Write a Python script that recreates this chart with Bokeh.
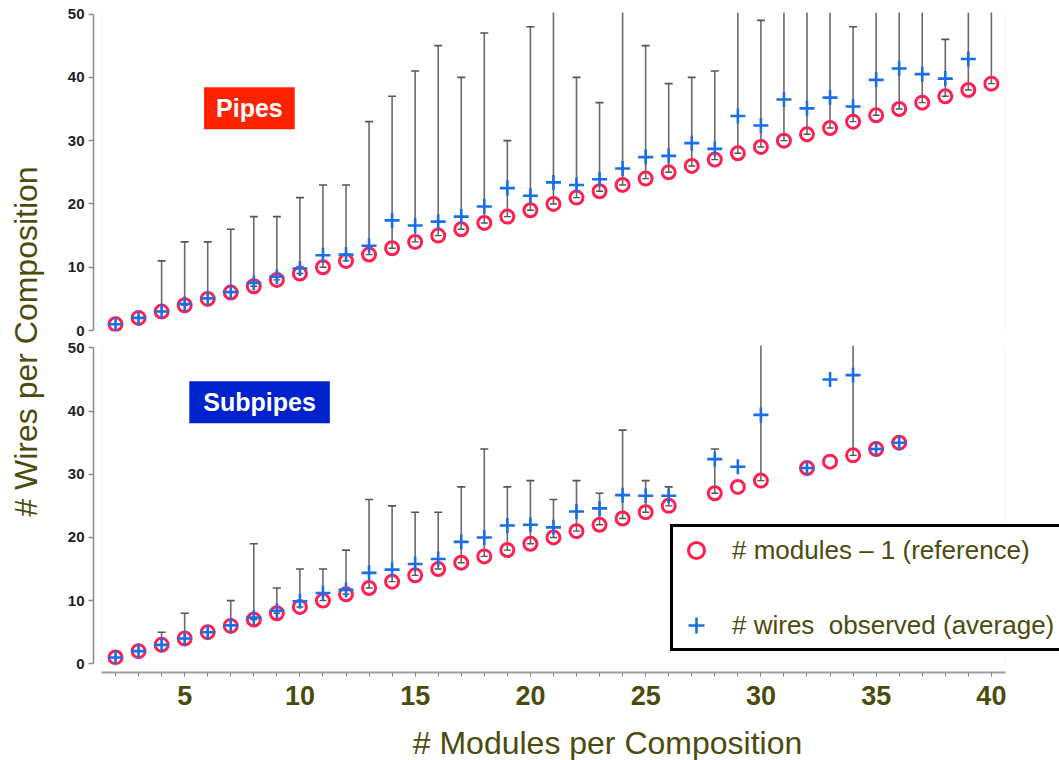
import numpy as np
from bokeh.plotting import figure
from bokeh.models import (Range1d, Label, Legend, LegendItem, SingleIntervalTicker,
                          FixedTicker, BoxAnnotation, ColumnDataSource)
from bokeh.layouts import row, column
from bokeh.embed import file_html
from bokeh.resources import INLINE

NaN = float("nan")

# ---------------- data ----------------
pipes_modules = list(range(2, 41))
pipes_reference = [m - 1 for m in pipes_modules]
pipes_avg = [1, 2, 3, 4.2, 5.1, 6.1, 7.5, 8.5, 9.8, 11.9, 12.0, 13.4, 17.4, 16.6, 17.2,
             18.0, 19.6, 22.5, 21.3, 23.4, 23.0, 23.9, 25.6, 27.4, 27.6, 29.6, 28.7,
             33.9, 32.4, 36.5, 35.1, 36.8, 35.4, 39.6, 41.4, 40.5, 39.8, 42.9, NaN]
pipes_max = [NaN, NaN, 11, 14, 14, 16, 18, 18, 21, 23, 23, 33, 37, 41, 45, 40, 47, 30,
             48, 55, 40, 36, 55, 45, 39, 40, 41, 55, 49, 55, 55, 55, 48, 55, 55, 55,
             46, 55, 55]

sub_modules = [2, 3, 4, 5, 6, 7, 8, 9, 10, 11, 12, 13, 14, 15, 16, 17, 18, 19, 20, 21,
               22, 23, 24, 25, 26, 28, 29, 30, 32, 33, 34, 35, 36]
sub_reference = [m - 1 for m in sub_modules]
sub_avg = [1, 2, 3, 4, 5, 6.1, 7.3, 8.4, 9.9, 11.2, 11.7, 14.4, 14.9, 15.8, 16.6, 19.3,
           20.0, 21.9, 22.0, 21.6, 24.1, 24.6, 26.7, 26.6, 26.6, 32.4, 31.2, 39.4, 31,
           45.0, 45.7, 34, 35]
sub_max = [NaN, NaN, 5, 8, NaN, 10, 19, 12, 15, 15, 18, 26, 25, 24, 24, 28, 34, 28, 29,
           26, 29, 27, 37, 29, 28, 34, NaN, 55, NaN, NaN, 55, NaN, NaN]

y_ticks = [0, 10, 20, 30, 40, 50]
legend_labels = ["# modules \u2013 1 (reference)", "# wires  observed (average)"]
x_title = "# Modules per Composition"
y_title = "# Wires per Composition"

# ---------------- styles ----------------
RED = "#ff1f50"
BLUE = "#1a6ee6"
OLIVE = "#4b4b0e"
BAR = "#6a6a6a"
FONT = "Liberation Sans"

x_range = Range1d(1.045, 42.955)


def style_y(p):
    p.xgrid.visible = False
    p.ygrid.visible = False
    ax = p.yaxis[0]
    ax.ticker = FixedTicker(ticks=y_ticks)
    ax.bounds = (0, 50)
    ax.major_tick_out = 5
    ax.major_tick_in = 0
    ax.minor_tick_line_color = None
    ax.axis_line_color = "#8c8c8c"
    ax.axis_line_width = 1.5
    ax.major_tick_line_color = "#8c8c8c"
    ax.major_tick_line_width = 1.5
    ax.major_label_text_font = FONT
    ax.major_label_text_font_size = "15px"
    ax.major_label_text_font_style = "bold"
    ax.major_label_text_color = "#1e1e1e"
    ax.major_label_standoff = 4


def draw_panel(p, xs, ref, avg, mx):
    xs = np.array(xs, dtype=float)
    ref = np.array(ref, dtype=float)
    avg = np.array(avg, dtype=float)
    mx = np.array(mx, dtype=float)
    lo = np.where(np.isnan(mx), np.nan, ref)
    src = ColumnDataSource(dict(x=xs, ref=ref, avg=avg, mx=mx, lo=lo))
    p.segment(x0="x", y0="ref", x1="x", y1="mx", source=src,
              line_color=BAR, line_width=1.6)
    p.scatter("x", "mx", source=src, marker="dash", size=8,
              line_color="#555555", line_width=1.6)
    p.scatter("x", "lo", source=src, marker="dash", size=7,
              line_color="#555555", line_width=1.4)
    c = p.scatter("x", "ref", source=src, marker="circle", size=13,
                  fill_color=None, line_color=RED, line_width=3)
    pl = p.scatter("x", "avg", source=src, marker="cross", size=15,
                   line_color=BLUE, line_width=2.6)
    return c, pl


# ---------------- top panel ----------------
top = figure(width=1009, height=339, x_range=x_range, y_range=Range1d(-0.15, 50.24),
             x_axis_location=None, toolbar_location=None, output_backend="svg",
             min_border_left=43, min_border_right=0, min_border_top=12,
             min_border_bottom=8, outline_line_color=None, background_fill_color="white")
style_y(top)
top.add_layout(BoxAnnotation(left=1.39, right=40.6, bottom=-0.15, top=50.24,
                             fill_alpha=0, line_color="#eeeeee", line_width=1.5))
draw_panel(top, pipes_modules, pipes_reference, pipes_avg, pipes_max)
top.add_layout(Label(x=7.81, y=35.1, text="Pipes", text_align="center",
                     text_baseline="middle", text_color="white", text_font=FONT,
                     text_font_size="25px", text_font_style="bold",
                     background_fill_color="#ff2200",
                     padding=dict(left=12, right=12, top=7, bottom=7)))

# ---------------- bottom panel ----------------
bottom = figure(width=1009, height=378, x_range=x_range, y_range=Range1d(-1.38, 50.39),
                toolbar_location=None, output_backend="svg",
                min_border_left=43, min_border_right=0, min_border_top=6,
                min_border_bottom=45, outline_line_color=None, background_fill_color="white")
style_y(bottom)
bottom.add_layout(BoxAnnotation(left=1.39, right=40.6, bottom=-0.15, top=50.39,
                                fill_alpha=0, line_color="#eeeeee", line_width=1.5))
c_ref, c_avg = draw_panel(bottom, sub_modules, sub_reference, sub_avg, sub_max)
bottom.add_layout(Label(x=8.25, y=41.4, text="Subpipes", text_align="center",
                        text_baseline="middle", text_color="white", text_font=FONT,
                        text_font_size="25px", text_font_style="bold",
                        background_fill_color="#0022cc",
                        padding=dict(left=14, right=14, top=7, bottom=7)))

xa = bottom.xaxis[0]
xa.ticker = SingleIntervalTicker(interval=5, num_minor_ticks=5)
xa.bounds = (1.39, 40.6)
xa.axis_line_color = "#a0a0a0"
xa.axis_line_width = 2
xa.major_tick_out = 4
xa.major_tick_in = 0
xa.minor_tick_out = 4
xa.minor_tick_in = 0
xa.major_tick_line_color = "#888888"
xa.minor_tick_line_color = "#888888"
xa.major_label_text_font = FONT
xa.major_label_text_font_size = "27px"
xa.major_label_text_font_style = "bold"
xa.major_label_text_color = OLIVE
xa.major_label_standoff = 9

legend = Legend(items=[LegendItem(label=legend_labels[0], renderers=[c_ref]),
                       LegendItem(label=legend_labels[1], renderers=[c_avg])],
                location=(577, 21), glyph_width=40, glyph_height=40, spacing=35,
                padding=3, margin=0, label_standoff=16, label_width=345,
                border_line_color="black", border_line_width=3, border_line_alpha=1,
                background_fill_color="white", background_fill_alpha=1,
                label_text_font=FONT, label_text_font_size="26px",
                label_text_color=OLIVE)
bottom.add_layout(legend)

# ---------------- x title strip ----------------
xt = figure(width=1009, height=43, toolbar_location=None, output_backend="svg",
            x_axis_location=None, y_axis_location=None, min_border=0,
            outline_line_color=None, x_range=Range1d(0, 1), y_range=Range1d(0, 1))
xt.grid.visible = False
xt.add_layout(Label(x=514, y=18, x_units="screen", y_units="screen",
                    text=x_title, text_align="center", text_baseline="middle",
                    text_font=FONT, text_font_size="32px", text_color=OLIVE))

# ---------------- shared y title ----------------
lab = figure(width=50, height=760, toolbar_location=None, output_backend="svg",
             x_axis_location=None, y_axis_location=None, min_border=0,
             outline_line_color=None, x_range=Range1d(0, 1), y_range=Range1d(0, 1))
lab.grid.visible = False
lab.add_layout(Label(x=25, y=419, x_units="screen", y_units="screen", angle=np.pi / 2,
                     text=y_title, text_align="center",
                     text_baseline="middle", text_font=FONT, text_font_size="32px",
                     text_color=OLIVE))

layout = row(lab, column(top, bottom, xt))
open("out.html", "w").write(file_html(layout, INLINE))
